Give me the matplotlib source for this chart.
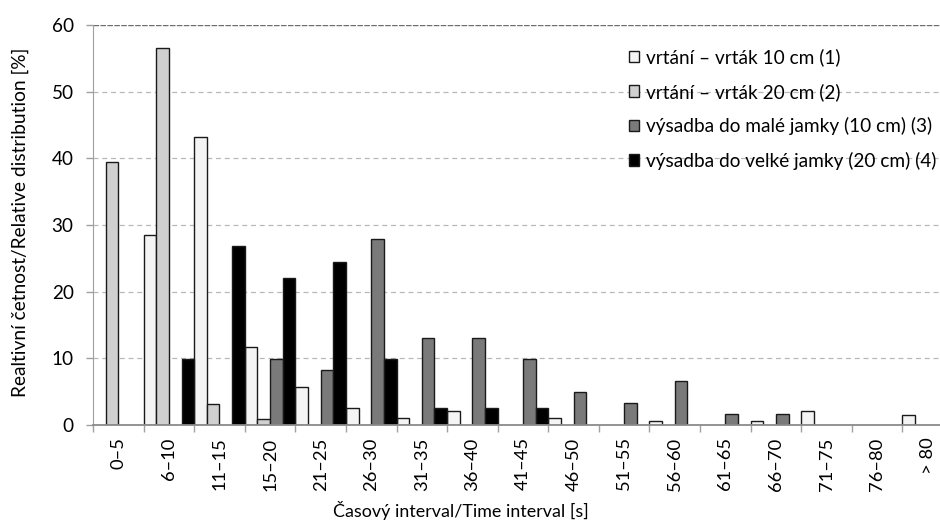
import matplotlib
matplotlib.use("Agg")
import matplotlib.pyplot as plt
import numpy as np
from matplotlib.patches import Patch

categories = ["0–5", "6–10", "11–15", "15–20", "21–25", "26–30", "31–35", "36–40",
              "41–45", "46–50", "51–55", "56–60", "61–65", "66–70", "71–75", "76–80", "> 80"]
s1 = [0, 28.5, 43.2, 11.7, 5.7, 2.6, 1.1, 2.1, 0, 1.1, 0, 0.6, 0, 0.6, 2.1, 0, 1.5]
s2 = [39.5, 56.5, 3.1, 0.9, 0, 0, 0, 0, 0, 0, 0, 0, 0, 0, 0, 0, 0]
s3 = [0, 0, 0, 9.9, 8.2, 27.9, 13.1, 13.1, 9.9, 4.9, 3.3, 6.6, 1.7, 1.7, 0, 0, 0]
s4 = [0, 9.9, 26.9, 22.0, 24.5, 9.9, 2.5, 2.5, 2.5, 0, 0, 0, 0, 0, 0, 0, 0]
series_labels = ["vrtání – vrták 10 cm (1)", "vrtání – vrták 20 cm (2)",
                 "výsadba do malé jamky (10 cm) (3)", "výsadba do velké jamky (20 cm) (4)"]
colors = ["#f4f4f4", "#d0d0d0", "#7a7a7a", "#000000"]

plt.rcParams['font.family'] = ['Lato', 'DejaVu Sans']
fs_xtick = 13.2
fs_ytick = 13.6
fs_leg = 13.7
fs_xlab = 12.9
fs_ylab = 13.8

W, H = 940, 524
fig = plt.figure(figsize=(W / 100, H / 100), dpi=100)
left, right, top, bottom = 93, 953, 25, 425
ax = fig.add_axes([left / W, 1 - bottom / H, (right - left) / W, (bottom - top) / H])

x = np.arange(len(categories))
bw = 0.25
offsets = [-1.5 * bw, -0.5 * bw, 0.5 * bw, 1.5 * bw]
for vals, off, c in zip([s1, s2, s3, s4], offsets, colors):
    v = np.array(vals, dtype=float)
    m = v > 0
    ax.bar(x[m] + off, v[m], width=bw, color=c, edgecolor="#1a1a1a", linewidth=1.0, zorder=3)

ax.set_xlim(-0.5, len(categories) - 0.5)
ax.set_ylim(0, 60)
ax.set_yticks(np.arange(0, 61, 10))
for yv in range(10, 60, 10):
    ax.axhline(yv, color="#b8b8b8", linestyle=(0, (4, 3)), linewidth=0.9, zorder=1)
ax.axhline(60, color="#6e6e6e", linestyle=(0, (4, 1)), linewidth=1.0, zorder=1)

ax.set_xticks(x)
ax.set_xticklabels(categories, rotation=90, fontsize=fs_xtick)
ax.set_xticks(np.arange(-0.5, len(categories), 1), minor=True)
ax.tick_params(axis="x", which="major", length=0, pad=9)
ax.tick_params(axis="x", which="minor", length=5, color="#a0a0a0", width=1)
ax.tick_params(axis="y", length=5, color="#a0a0a0", width=1, pad=9, labelsize=fs_ytick)

for s in ["top", "right"]:
    ax.spines[s].set_visible(False)
ax.spines["left"].set_color("#a0a0a0")
ax.spines["bottom"].set_color("#8a8a8a")
ax.spines["bottom"].set_linewidth(1.3)
ax.spines["bottom"].set_zorder(4)

handles = [Patch(facecolor=c, edgecolor="#1a1a1a", linewidth=1.0) for c in colors]
ax.legend(handles, series_labels, loc="upper left", bbox_to_anchor=(0.603, 0.984),
          frameon=False, fontsize=fs_leg, handlelength=0.55, handleheight=0.55,
          handletextpad=0.35, labelspacing=0.86)

fig.text(461 / W, 1 - 510 / H, "Časový interval/Time interval [s]", ha="center", va="center", fontsize=fs_xlab)
fig.text(20 / W, 1 - 222 / H, "Realtivní četnost/Relative distribution [%]", ha="center", va="center",
         rotation=90, fontsize=fs_ylab)

fig.savefig("out.png", dpi=100)
